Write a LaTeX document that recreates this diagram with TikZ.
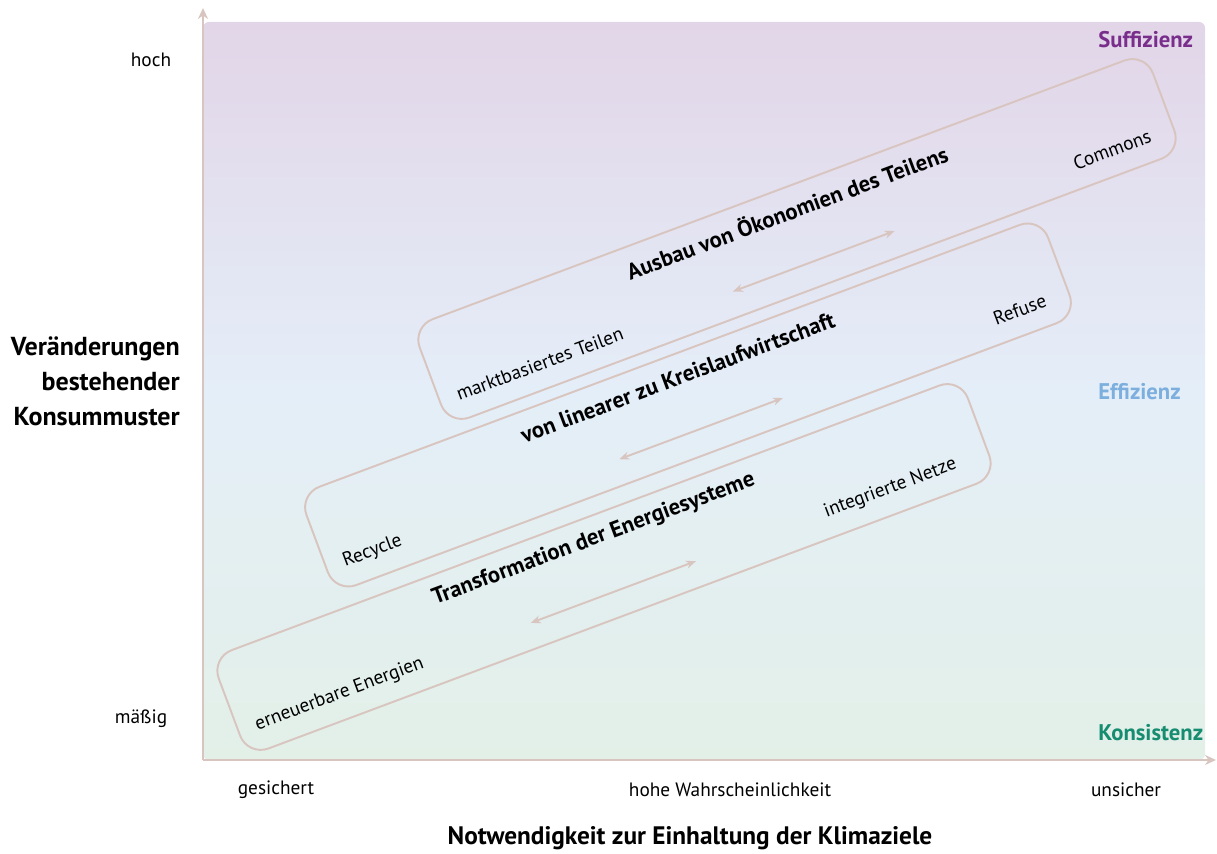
\documentclass[tikz,border=0pt]{standalone}
\usepackage{fontspec}
\setmainfont{PT Sans}
\usetikzlibrary{calc,arrows.meta,positioning}
\definecolor{rahmen}{RGB}{217,197,191}
\definecolor{lila}{RGB}{226,213,232}
\definecolor{hellblau}{RGB}{228,238,248}
\definecolor{mint}{RGB}{227,240,232}
\definecolor{suff}{RGB}{122,46,140}
\definecolor{effi}{RGB}{125,175,222}
\definecolor{kons}{RGB}{22,140,112}
\begin{document}
\begin{tikzpicture}[x=0.02cm, y=0.02cm,
    feld/.style={draw=rahmen, line width=1.1pt, rounded corners=0.44cm, rotate=20.5, minimum height=2.1cm},
    titel/.style={rotate=20.5, font=\bfseries\fontsize{12.9}{15}\selectfont},
    klein/.style={rotate=20.5, font=\fontsize{11}{13}\selectfont},
    achstext/.style={font=\fontsize{11}{13}\selectfont},
    ecke/.style={anchor=west, inner xsep=0pt, font=\bfseries\fontsize{12.9}{15}\selectfont},
    pfeil/.style={rahmen, line width=1.1pt, {Stealth[length=0.2cm,width=0.16cm]}-{Stealth[length=0.2cm,width=0.16cm]}},
    achse/.style={rahmen, line width=1.6pt, -{Stealth[length=0.22cm,width=0.2cm]}}]
    \useasboundingbox (0,0) rectangle (1217,854);
    % Hintergrund
    \shade[top color=lila, bottom color=mint, middle color=hellblau, rounded corners=0.12cm] (203,94) rectangle (1205,832);
    % Achsen
    \coordinate (o) at (203,94);
    \coordinate (yend) at (203,846);
    \coordinate (xend) at (1216,94);
    \draw[achse] (o) -- (yend);
    \draw[achse] (o) -- (xend);
    \node[achstext] (hoch) at (151,794) {hoch};
    \node[achstext] (maessig) at (141,135) {mäßig};
    \node[achstext] (gesichert) at (276,64) {gesichert};
    \node[achstext] (wahrsch) at (730,64) {hohe Wahrscheinlichkeit};
    \node[achstext] (unsicher) at (1126,64) {unsicher};
    \node[font=\bfseries\fontsize{14.4}{17}\selectfont] (xlabel) at (690,16) {Notwendigkeit zur Einhaltung der Klimaziele};
    \node[anchor=east, align=right, font=\bfseries\fontsize{14.8}{20}\selectfont] (ylabel) at (186,473) {Veränderungen\\bestehender\\Konsummuster};
    \node[ecke, suff] (suff) at (1098,814) {Suffizienz};
    \node[ecke, effi] (effi) at (1098,462) {Effizienz};
    \node[ecke, kons] (kons) at (1098,121) {Konsistenz};
    % Felder
    \node[feld, minimum width=15.66cm] (b1) at (797,615) {};
    \node[feld, minimum width=15.84cm] (b2) at (688,449) {};
    \node[feld, minimum width=16cm] (b3) at (604,287) {};
    \coordinate (l1) at ($(b1.west)!0.5!(b1.south west)$);
    \coordinate (r1) at ($(b1.east)!0.5!(b1.south east)$);
    \coordinate (l2) at ($(b2.west)!0.5!(b2.south west)$);
    \coordinate (r2) at ($(b2.east)!0.5!(b2.south east)$);
    \coordinate (l3) at ($(b3.west)!0.5!(b3.south west)$);
    \coordinate (r3) at ($(b3.east)!0.5!(b3.south east)$);
    \node[titel] (t1) at ($(b1.center)!0.55!(b1.north)$) {Ausbau von Ökonomien des Teilens};
    \node[titel] (t2) at ($(b2.center)!0.55!(b2.north)$) {von linearer zu Kreislaufwirtschaft};
    \node[titel] (t3) at ($(b3.center)!0.55!(b3.north)$) {Transformation der Energiesysteme};
    \node[klein, anchor=west, inner xsep=0.38cm] (markt) at (l1) {marktbasiertes Teilen};
    \node[klein, anchor=east, inner xsep=0.5cm] (commons) at (r1) {Commons};
    \node[klein, anchor=west, inner xsep=0.38cm] (recycle) at (l2) {Recycle};
    \node[klein, anchor=east, inner xsep=0.5cm] (refuse) at (r2) {Refuse};
    \node[klein, anchor=west, inner xsep=0.38cm] (erneuerbar) at (l3) {erneuerbare Energien};
    \node[klein, anchor=east, inner xsep=0.7cm] (netze) at (r3) {integrierte Netze};
    % Pfeile
    \coordinate (p1) at ($(l1)!0.40!(r1)$);
    \coordinate (q1) at ($(l1)!0.62!(r1)$);
    \coordinate (p2) at ($(l2)!0.395!(r2)$);
    \coordinate (q2) at ($(l2)!0.615!(r2)$);
    \coordinate (p3) at ($(l3)!0.39!(r3)$);
    \coordinate (q3) at ($(l3)!0.61!(r3)$);
    \draw[pfeil] (p1) -- (q1);
    \draw[pfeil] (p2) -- (q2);
    \draw[pfeil] (p3) -- (q3);
\end{tikzpicture}
\end{document}
